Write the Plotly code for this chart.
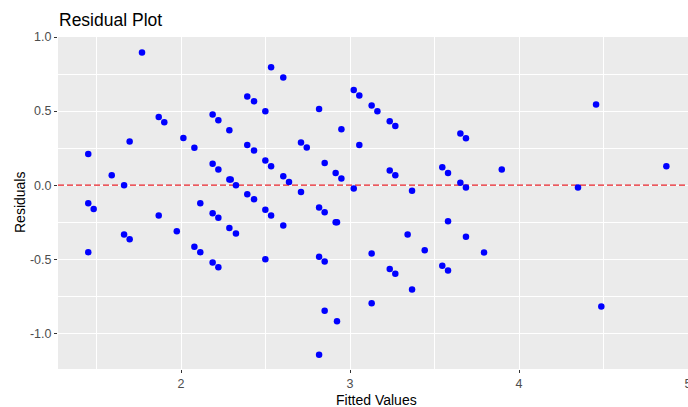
import plotly.graph_objects as go

fitted = [1.451, 1.590, 1.663, 1.696, 1.769, 1.868, 1.901, 2.014, 2.079, 1.451,
          1.483, 1.868, 1.663, 1.696, 1.451, 1.975, 2.079, 2.114, 2.114, 2.187,
          2.221, 2.286, 2.187, 2.221, 2.286, 2.294, 2.325, 2.392, 2.432, 2.499,
          2.392, 2.432, 2.499, 2.533, 2.533, 2.605, 2.605, 2.639, 2.710, 2.744,
          2.710, 2.817, 2.850, 2.949, 2.915, 2.949, 3.022, 3.055, 3.055, 3.022,
          2.392, 2.432, 2.187, 2.221, 2.499, 2.533, 2.605, 2.286, 2.325, 2.187,
          2.221, 2.499, 2.817, 2.850, 2.915, 2.923, 2.817, 2.850, 2.850, 2.923,
          2.817, 3.128, 3.162, 3.235, 3.268, 3.235, 3.268, 3.367, 3.653, 3.686,
          3.546, 3.580, 3.653, 3.686, 3.898, 3.580, 3.341, 3.686, 3.128, 3.442,
          3.793, 3.235, 3.268, 3.546, 3.580, 3.367, 3.128, 4.456, 4.349, 4.872,
          4.487]
residuals = [0.211, 0.067, 0.000, 0.295, 0.895, 0.461, 0.425, 0.319, 0.252, -0.121,
             -0.160, -0.205, -0.333, -0.364, -0.452, -0.310, -0.416, -0.452, -0.121, 0.477,
             0.438, 0.371, 0.144, 0.106, 0.038, 0.038, 0.000, 0.598, 0.566, 0.499,
             0.272, 0.234, 0.166, 0.128, 0.796, 0.726, 0.061, 0.022, 0.288, 0.254,
             -0.045, 0.515, 0.150, 0.378, 0.083, 0.045, 0.643, 0.605, 0.272, -0.022,
             -0.061, -0.094, -0.189, -0.220, -0.166, -0.205, -0.272, -0.288, -0.326, -0.521,
             -0.553, -0.499, -0.151, -0.182, -0.250, -0.250, -0.483, -0.515, -0.847, -0.917,
             -1.144, 0.537, 0.499, 0.432, 0.400, 0.099, 0.067, -0.038, 0.349, 0.317,
             0.121, 0.083, 0.016, -0.016, 0.106, -0.243, -0.333, -0.348, -0.461, -0.438,
             -0.454, -0.566, -0.598, -0.544, -0.575, -0.703, -0.796, 0.544, -0.016, 0.128,
             -0.818]

x_ticks = [2, 3, 4, 5]
y_ticks = [-1.0, -0.5, 0.0, 0.5, 1.0]
y_tick_labels = ["-1.0", "-0.5", "0.0", "0.5", "1.0"]
x_range = [1.272, 5.0]
y_range = [-1.24, 1.0]

W, H = 688, 407
L, R, T, B = 58, 0, 37, 38
PW, PH = W - L - R, H - T - B

fig = go.Figure()
fig.add_trace(go.Scatter(
    x=x_range, y=[0, 0], mode="lines",
    line=dict(color="#E8232A", width=1.3, dash="6px,3px"),
    showlegend=False, hoverinfo="skip"))
fig.add_trace(go.Scatter(
    x=fitted, y=residuals, mode="markers",
    marker=dict(color="blue", size=6.5, line=dict(width=0)),
    showlegend=False, hoverinfo="x+y"))

font_family = "Liberation Sans, Arial, sans-serif"
fig.update_layout(
    width=W, height=H,
    margin=dict(l=L, r=R, t=T, b=B, autoexpand=False),
    paper_bgcolor="white",
    plot_bgcolor="#EBEBEB",
    font=dict(family=font_family, color="black"),
    title=dict(text="Residual Plot", x=1 / PW, xref="paper", xanchor="left",
               y=1 - 20 / H, yref="container", yanchor="middle",
               font=dict(size=17.5, color="black", family=font_family)),
    xaxis=dict(range=x_range, tickvals=x_ticks, ticktext=[str(v) for v in x_ticks],
               automargin=False, ticklabeloverflow="allow",
               showgrid=True, gridcolor="white", gridwidth=1.2,
               minor=dict(showgrid=True, gridcolor="white", gridwidth=0.6, dtick=0.5, tick0=0),
               zeroline=False, showline=False,
               ticks="outside", ticklen=3, tickcolor="#333333", tickwidth=1,
               tickfont=dict(size=12.5, color="#4D4D4D")),
    yaxis=dict(range=y_range, tickvals=y_ticks, ticktext=y_tick_labels,
               automargin=False,
               showgrid=True, gridcolor="white", gridwidth=1.2,
               minor=dict(showgrid=True, gridcolor="white", gridwidth=0.6, dtick=0.25, tick0=0),
               zeroline=False, showline=False,
               ticks="outside", ticklen=3, tickcolor="#333333", tickwidth=1,
               tickfont=dict(size=12.5, color="#4D4D4D")),
    annotations=[
        dict(text="Fitted Values", xref="paper", yref="paper",
             x=(376 - L) / PW, y=-(400 - (H - B)) / PH, xanchor="center", yanchor="middle",
             showarrow=False, font=dict(size=14, color="black")),
        dict(text="Residuals", xref="paper", yref="paper",
             x=-(L - 20) / PW, y=0.5, xanchor="center", yanchor="middle", textangle=-90,
             showarrow=False, font=dict(size=14, color="black")),
    ],
)

fig.write_html("out.html",
               config={"displayModeBar": False},
               post_script="document.body.style.margin='0';document.body.style.overflow='hidden';")
